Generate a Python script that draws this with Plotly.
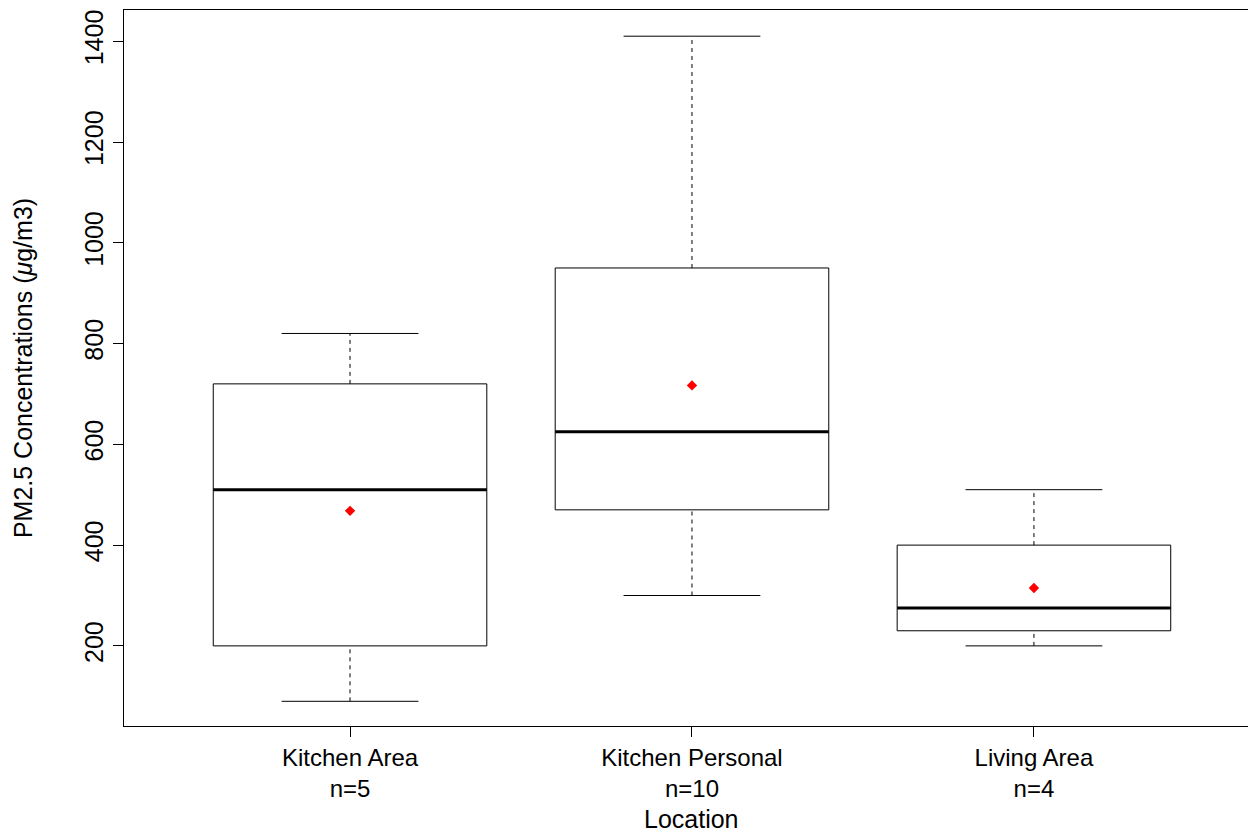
import plotly.graph_objects as go

# PM2.5 summary statistics per sampling location
locations = ["Kitchen Area", "Kitchen Personal", "Living Area"]
n_samples = [5, 10, 4]
lower_whisker = [90, 300, 200]
q1 = [200, 470, 230]
median = [510, 625, 275]
q3 = [720, 950, 400]
upper_whisker = [820, 1410, 510]
mean = [468, 717, 315]

y_ticks = [200, 400, 600, 800, 1000, 1200, 1400]

BOX_HALF = 0.4
CAP_HALF = 0.2
FONT = "Liberation Sans, Arial, Helvetica, sans-serif"
FS = 25

fig = go.Figure()

for i in range(len(locations)):
    x = i + 1
    # box outline
    fig.add_trace(go.Scatter(
        x=[x - BOX_HALF, x + BOX_HALF, x + BOX_HALF, x - BOX_HALF, x - BOX_HALF],
        y=[q1[i], q1[i], q3[i], q3[i], q1[i]],
        mode="lines", line=dict(color="black", width=1),
        hoverinfo="skip", showlegend=False))
    # median
    fig.add_trace(go.Scatter(
        x=[x - BOX_HALF, x + BOX_HALF], y=[median[i], median[i]],
        mode="lines", line=dict(color="black", width=3),
        hoverinfo="skip", showlegend=False))
    # dashed whiskers
    for a, b in ((lower_whisker[i], q1[i]), (q3[i], upper_whisker[i])):
        fig.add_trace(go.Scatter(
            x=[x, x], y=[a, b], mode="lines",
            line=dict(color="black", width=1, dash="4px,4px"),
            hoverinfo="skip", showlegend=False))
    # whisker caps
    for v in (lower_whisker[i], upper_whisker[i]):
        fig.add_trace(go.Scatter(
            x=[x - CAP_HALF, x + CAP_HALF], y=[v, v], mode="lines",
            line=dict(color="black", width=1),
            hoverinfo="skip", showlegend=False))

# means
fig.add_trace(go.Scatter(
    x=[i + 1 for i in range(len(locations))], y=mean, mode="markers",
    marker=dict(symbol="diamond", size=8, color="red", line=dict(width=0)),
    showlegend=False))

tick_text = [f"{loc}<br>n={n}" for loc, n in zip(locations, n_samples)]

fig.update_layout(
    width=1248, height=835,
    margin=dict(l=124, r=0, t=10, b=109),
    plot_bgcolor="white", paper_bgcolor="white",
    font=dict(family=FONT, size=FS, color="black"),
    xaxis=dict(
        range=[0.339, 3.626], tickvals=[1, 2, 3], ticktext=tick_text,
        showgrid=False, zeroline=False,
        showline=True, linecolor="black", linewidth=1, mirror=True,
        ticks="outside", ticklen=10, tickcolor="black",
        tickfont=dict(size=24),
    ),
    yaxis=dict(
        range=[41, 1462], tickvals=y_ticks,
        showgrid=False, zeroline=False,
        showline=True, linecolor="black", linewidth=1,
        ticks="outside", ticklen=10, tickcolor="black",
        tickangle=-90, tickfont=dict(size=FS),
        title=dict(text="PM2.5 Concentrations (<i>μ</i>g/m3)",
                   font=dict(size=FS), standoff=40),
    ),
    annotations=[dict(
        text="Location", xref="x", yref="paper", x=2, y=-0.152,
        xanchor="center", yanchor="bottom", showarrow=False,
        font=dict(size=FS))],
)

fig.write_html("out.html")
